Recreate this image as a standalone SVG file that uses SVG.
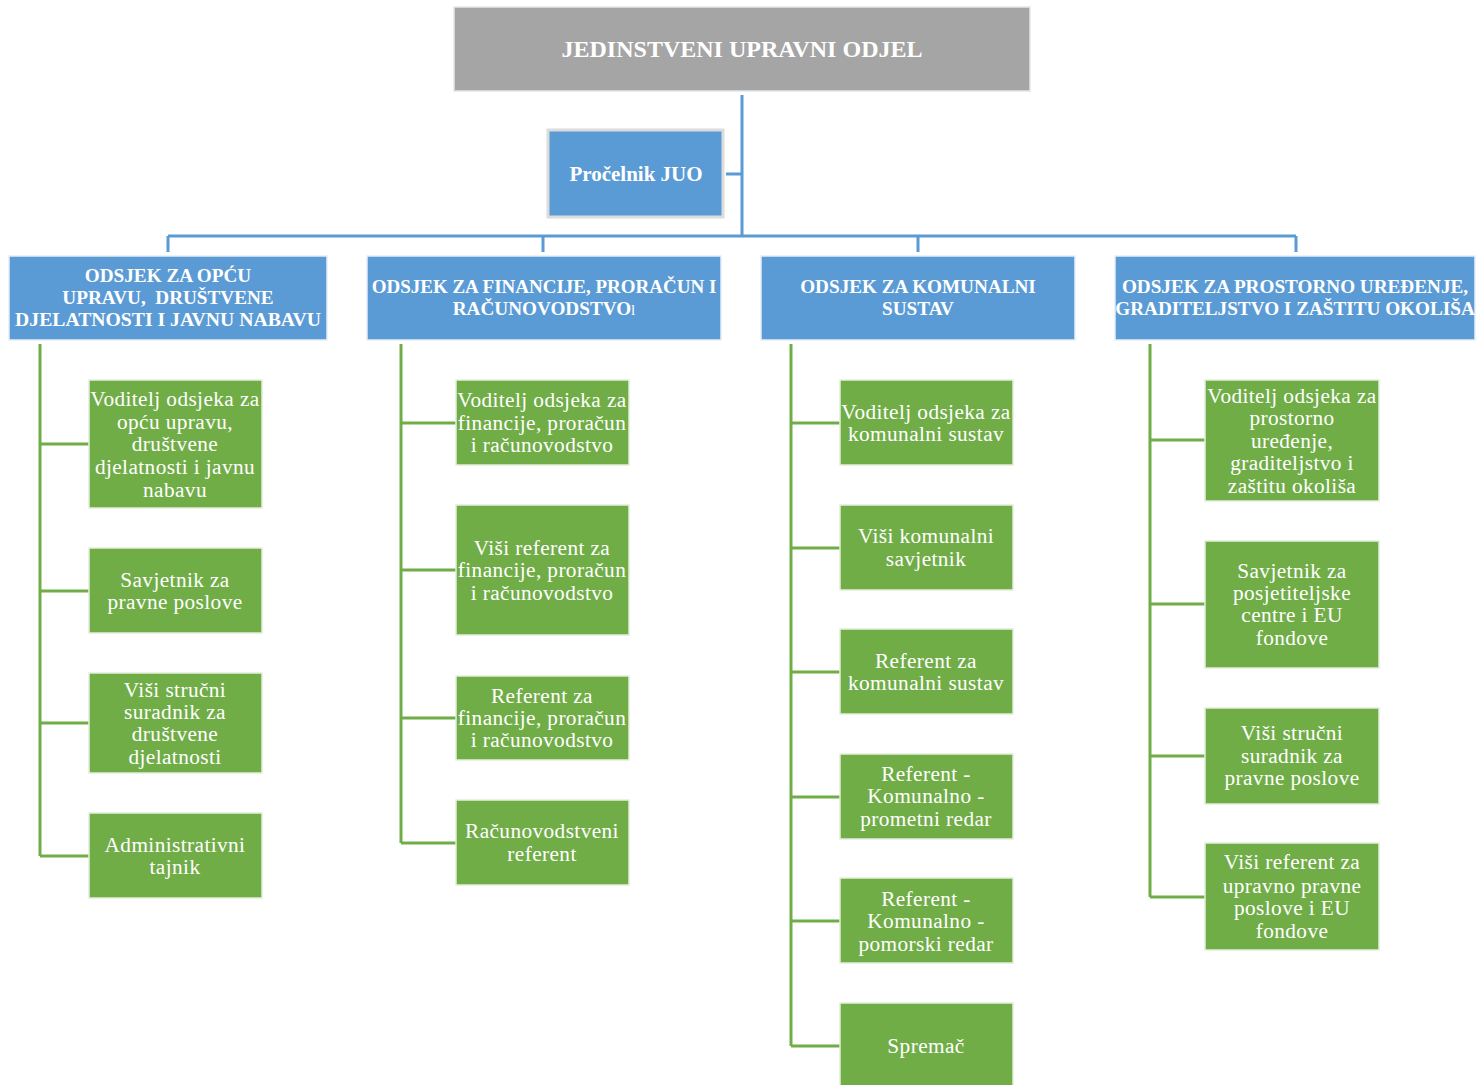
<svg xmlns="http://www.w3.org/2000/svg" width="1478" height="1085" viewBox="0 0 1478 1085">
<style>
.bg{fill:#ffffff}
.top{fill:#a5a5a5;stroke:#e6e6e6;stroke-width:1.5}
.blue{fill:#5b9bd5;stroke:#e6eef7;stroke-width:1.5}
.chief{fill:#5b9bd5;stroke:#dcdcdc;stroke-width:3}
.green{fill:#70ad47;stroke:#e3eedb;stroke-width:1.5}
.bl{stroke:#5b9bd5;stroke-width:3;fill:none}
.gl{stroke:#70ad47;stroke-width:3;fill:none}
text{font-family:"Liberation Serif","DejaVu Serif",serif;fill:#ffffff;text-anchor:middle}
.h{font-weight:bold;font-size:19.2px}
.t{font-size:21.3px;letter-spacing:0.4px}
</style>
<rect class="bg" x="0" y="0" width="1478" height="1085"/>
<g id="connectors">
<path class="bl" d="M742 95V236M726 174H742M168 236H1296M168 236V252M543 236V252M918 236V252M1296 236V252"/>
<path class="gl" d="M40 344V856M40 444H89M40 591H89M40 723H89M40 856H89"/>
<path class="gl" d="M401 344V843M401 423H456M401 570H456M401 718H456M401 843H456"/>
<path class="gl" d="M791 344V1046M791 423H840M791 548H840M791 672H840M791 797H840M791 921H840M791 1046H840"/>
<path class="gl" d="M1150 344V897M1150 440H1205M1150 604H1205M1150 756H1205M1150 897H1205"/>
</g>
<g id="juo"><rect class="top" x="454" y="7" width="576" height="84"/><text class="h" x="742" y="57" style="font-size:24px">JEDINSTVENI UPRAVNI ODJEL</text></g>
<g id="procelnik"><rect class="chief" x="548" y="130" width="175" height="87"/><text class="h" x="636" y="181" style="font-size:21px">Pročelnik JUO</text></g>
<g id="d1"><rect class="blue" x="9" y="256" width="318" height="84"/><text class="h" x="168" y="282">ODSJEK ZA OPĆU</text><text class="h" x="168" y="304" xml:space="preserve" style="white-space:pre">UPRAVU,  DRUŠTVENE</text><text class="h" x="168" y="326" style="font-size:19.7px">DJELATNOSTI I JAVNU NABAVU</text></g>
<g id="d2"><rect class="blue" x="367" y="256" width="354" height="84"/><text class="h" x="544" y="293" style="font-size:19px">ODSJEK ZA FINANCIJE, PRORAČUN I</text><text class="h" x="544" y="315">RAČUNOVODSTVO<tspan style="font-weight:normal;font-size:15px">l</tspan></text></g>
<g id="d3"><rect class="blue" x="761" y="256" width="314" height="84"/><text class="h" x="918" y="293">ODSJEK ZA KOMUNALNI</text><text class="h" x="918" y="315">SUSTAV</text></g>
<g id="d4"><rect class="blue" x="1115" y="256" width="360" height="84"/><text class="h" x="1295" y="293">ODSJEK ZA PROSTORNO UREĐENJE,</text><text class="h" x="1295" y="315">GRADITELJSTVO I ZAŠTITU OKOLIŠA</text></g>

<g id="n1a"><rect class="green" x="89" y="380" width="173" height="128"/><text class="t" x="175" y="406">Voditelj odsjeka za</text><text class="t" x="175" y="429">opću upravu,</text><text class="t" x="175" y="451">društvene</text><text class="t" x="175" y="474">djelatnosti i javnu</text><text class="t" x="175" y="497">nabavu</text></g>
<g id="n1b"><rect class="green" x="89" y="548" width="173" height="85"/><text class="t" x="175" y="587">Savjetnik za</text><text class="t" x="175" y="609">pravne poslove</text></g>
<g id="n1c"><rect class="green" x="89" y="673" width="173" height="100"/><text class="t" x="175" y="697">Viši stručni</text><text class="t" x="175" y="719">suradnik za</text><text class="t" x="175" y="741">društvene</text><text class="t" x="175" y="764">djelatnosti</text></g>
<g id="n1d"><rect class="green" x="89" y="813" width="173" height="85"/><text class="t" x="175" y="852">Administrativni</text><text class="t" x="175" y="874">tajnik</text></g>

<g id="n2a"><rect class="green" x="456" y="380" width="173" height="85"/><text class="t" x="542" y="407">Voditelj odsjeka za</text><text class="t" x="542" y="430">financije, proračun</text><text class="t" x="542" y="452">i računovodstvo</text></g>
<g id="n2b"><rect class="green" x="456" y="505" width="173" height="130"/><text class="t" x="542" y="555">Viši referent za</text><text class="t" x="542" y="577">financije, proračun</text><text class="t" x="542" y="600">i računovodstvo</text></g>
<g id="n2c"><rect class="green" x="456" y="676" width="173" height="84"/><text class="t" x="542" y="703">Referent za</text><text class="t" x="542" y="725">financije, proračun</text><text class="t" x="542" y="747">i računovodstvo</text></g>
<g id="n2d"><rect class="green" x="456" y="800" width="173" height="85"/><text class="t" x="542" y="838">Računovodstveni</text><text class="t" x="542" y="861">referent</text></g>

<g id="n3a"><rect class="green" x="840" y="380" width="173" height="85"/><text class="t" x="926" y="419">Voditelj odsjeka za</text><text class="t" x="926" y="441">komunalni sustav</text></g>
<g id="n3b"><rect class="green" x="840" y="505" width="173" height="85"/><text class="t" x="926" y="543">Viši komunalni</text><text class="t" x="926" y="566">savjetnik</text></g>
<g id="n3c"><rect class="green" x="840" y="629" width="173" height="85"/><text class="t" x="926" y="668">Referent za</text><text class="t" x="926" y="690">komunalni sustav</text></g>
<g id="n3d"><rect class="green" x="840" y="754" width="173" height="85"/><text class="t" x="926" y="781">Referent -</text><text class="t" x="926" y="803">Komunalno -</text><text class="t" x="926" y="826">prometni redar</text></g>
<g id="n3e"><rect class="green" x="840" y="878" width="173" height="85"/><text class="t" x="926" y="906">Referent -</text><text class="t" x="926" y="928">Komunalno -</text><text class="t" x="926" y="951">pomorski redar</text></g>
<g id="n3f"><rect class="green" x="840" y="1003" width="173" height="84"/><text class="t" x="926" y="1053">Spremač</text></g>

<g id="n4a"><rect class="green" x="1205" y="380" width="174" height="121"/><text class="t" x="1292" y="403">Voditelj odsjeka za</text><text class="t" x="1292" y="425">prostorno</text><text class="t" x="1292" y="448">uređenje,</text><text class="t" x="1292" y="470">graditeljstvo i</text><text class="t" x="1292" y="493">zaštitu okoliša</text></g>
<g id="n4b"><rect class="green" x="1205" y="541" width="174" height="127"/><text class="t" x="1292" y="578">Savjetnik za</text><text class="t" x="1292" y="600">posjetiteljske</text><text class="t" x="1292" y="622">centre i EU</text><text class="t" x="1292" y="645">fondove</text></g>
<g id="n4c"><rect class="green" x="1205" y="708" width="174" height="96"/><text class="t" x="1292" y="740">Viši stručni</text><text class="t" x="1292" y="763">suradnik za</text><text class="t" x="1292" y="785">pravne poslove</text></g>
<g id="n4d"><rect class="green" x="1205" y="843" width="174" height="107"/><text class="t" x="1292" y="869">Viši referent za</text><text class="t" x="1292" y="893">upravno pravne</text><text class="t" x="1292" y="915">poslove i EU</text><text class="t" x="1292" y="938">fondove</text></g>
</svg>
